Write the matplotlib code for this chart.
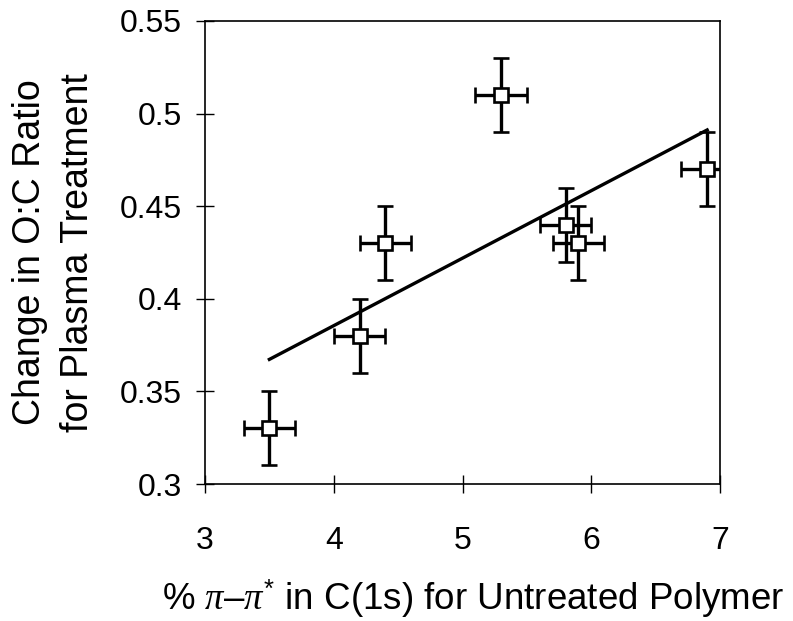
import matplotlib
matplotlib.use("Agg")
import matplotlib.pyplot as plt
import numpy as np
from matplotlib.ticker import FuncFormatter

plt.rcParams['font.family'] = ['Liberation Sans', 'DejaVu Sans']
plt.rcParams['mathtext.fontset'] = 'custom'
plt.rcParams['mathtext.it'] = 'Liberation Serif:italic'
plt.rcParams['mathtext.rm'] = 'Liberation Sans'

# Measured values for each polymer
pi_pi_star = [3.5, 4.2, 4.4, 5.3, 5.8, 5.9, 6.9]
oc_change = [0.33, 0.38, 0.43, 0.51, 0.44, 0.43, 0.47]
x_err = [0.2, 0.2, 0.2, 0.2, 0.2, 0.2, 0.2]
y_err = [0.02, 0.02, 0.02, 0.02, 0.02, 0.02, 0.02]

x_ticks = [3, 4, 5, 6, 7]
y_ticks = [0.3, 0.35, 0.4, 0.45, 0.5, 0.55]

fig = plt.figure(figsize=(7.93, 6.21), dpi=100)
ax = fig.add_axes([0.2585, 0.2206, 0.6495, 0.7456])

# Least-squares trend line across the measured range
slope, intercept = np.polyfit(pi_pi_star, oc_change, 1)
xl = np.array([min(pi_pi_star), max(pi_pi_star)])
ax.plot(xl, slope * xl + intercept, color='black', lw=2.4, zorder=2)

ax.errorbar(pi_pi_star, oc_change, xerr=x_err, yerr=y_err, fmt='s',
            mfc='white', mec='black', mew=1.9, ms=9.5, ecolor='black',
            elinewidth=2.4, capsize=5.5, capthick=2.4, zorder=3)

ax.set_xlim(3, 7)
ax.set_ylim(0.3, 0.55)
ax.set_xticks(x_ticks)
ax.set_yticks(y_ticks)
ax.yaxis.set_major_formatter(FuncFormatter(lambda v, p: f"{v:g}"))

for s in ax.spines.values():
    s.set_linewidth(1.2)
ax.tick_params(direction='inout', length=13, width=1.0, labelsize=23,
               top=False, right=False)
ax.tick_params(axis='x', pad=24)
ax.tick_params(axis='y', pad=10)

ax.set_xlabel(r'% $\pi$–$\pi^{*}$ in C(1s) for Untreated Polymer',
              fontsize=26.5)
ax.xaxis.set_label_coords(0.52, -0.202, transform=ax.transAxes)
ax.set_ylabel('Change in O:C Ratio\nfor Plasma Treatment', fontsize=27,
              labelpad=17, linespacing=1.45)

fig.savefig('out.png', dpi=100)
